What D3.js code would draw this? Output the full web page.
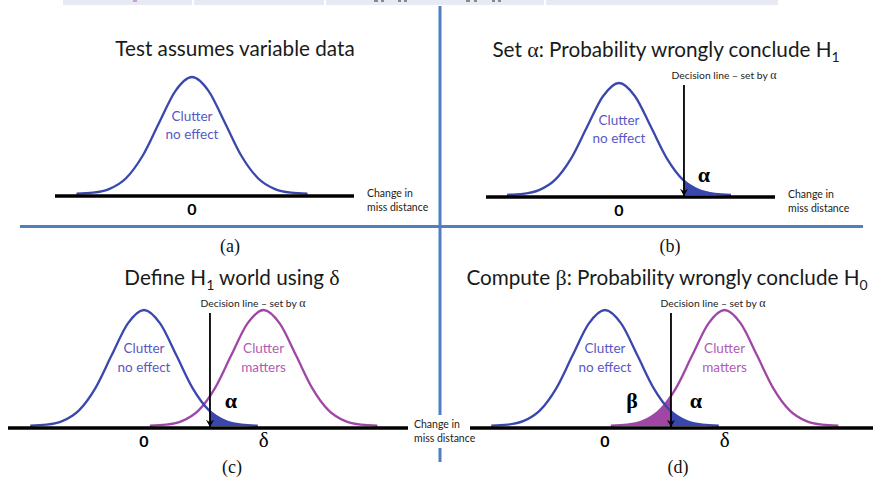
<!DOCTYPE html>
<html><head><meta charset="utf-8">
<script src="https://cdn.jsdelivr.net/npm/d3@7"></script>
<style>
html,body{margin:0;padding:0;background:#fff;}
svg{display:block;}
.sans{font-family:Lato,"Open Sans","DejaVu Sans",sans-serif;}
.serif{font-family:"Liberation Serif","Times New Roman",serif;}
</style>
</head><body>
<svg id="c" width="873" height="478"></svg>
<script>
// ---- data ----
const zPoints = [-3.5,-3.0,-2.5,-2.0,-1.5,-1.0,-0.5,0,0.5,1.0,1.5,2.0,2.5,3.0,3.5];
const bellHeights = [0.002,0.011,0.044,0.135,0.325,0.607,0.882,1,0.882,0.607,0.325,0.135,0.044,0.011,0.002];
const delta = 3.68;          // shift of the "clutter matters" curve (sd units)
const decision = 2.03;       // decision line (sd units), set by alpha
const panelTitles = ["Test assumes variable data",
  "Set α: Probability wrongly conclude H1",
  "Define H1 world using δ",
  "Compute β: Probability wrongly conclude H0"];
const panelLetters = ["(a)","(b)","(c)","(d)"];
const tickLabels = ["0","δ"];
const tickValues = [0, delta];
const curveNames = [["Clutter","no effect"],["Clutter","matters"]];

// ---- layout ----
const svg = d3.select("#c");
const BLUE = "#3a47ad", PURPLE = "#a047a6", BLUE_TXT = "#5858c4", PURPLE_TXT = "#b05cb4", DIV = "#4f7fbf";

// top table strip (cut off at the page edge; only a sliver shows)
svg.append("rect").attr("x",63).attr("y",0).attr("width",715).attr("height",5).attr("fill","#e7eaf3");
[193,325,545].forEach(x=>svg.append("rect").attr("x",x-1).attr("y",0).attr("width",2).attr("height",5).attr("fill","#fff"));
// glyph fragments peeking out of the strip
[[374,4],[381,3],[398,3],[404,3],[466,4],[474,3],[492,3],[498,3]].forEach(([x,w])=>
  svg.append("rect").attr("x",x).attr("y",0).attr("width",w).attr("height",2).attr("fill","#888"));
svg.append("rect").attr("x",133).attr("y",0).attr("width",4).attr("height",2).attr("fill","#c9a0d8");

// dividers
svg.append("line").attr("x1",440).attr("x2",440).attr("y1",6).attr("y2",462).attr("stroke",DIV).attr("stroke-width",3);
svg.append("line").attr("x1",20).attr("x2",863).attr("y1",226.5).attr("y2",226.5).attr("stroke",DIV).attr("stroke-width",3);

const panels = [
  {x0:192, ppu:33,   axis:[55,354],  axisY:196, peakY:77,  curves:[0],   decision:false, fills:[],              ticks:[0],   letter:[230,252], titleY:56,  titleX:235, nameY:[121,139], change:[367,197]},
  {x0:619, ppu:32,   axis:[486,775], axisY:197, peakY:83,  curves:[0],   decision:true,  fills:["alpha"],       ticks:[0],   letter:[670,252], titleY:57,  titleX:666, nameY:[125,143], change:[788,198], decText:[724,79],  decTop:85,  alpha:[704,182]},
  {x0:144, ppu:32.5, axis:[8,408],   axisY:428, peakY:310, curves:[0,1], decision:true,  fills:["alpha"],       ticks:[0,1], letter:[232,473], titleY:285, titleX:232, nameY:[353,372], change:[414,428], decText:[253,307], decTop:313, alpha:[231,408]},
  {x0:605, ppu:32.5, axis:[470,873], axisY:428, peakY:310, curves:[0,1], decision:true,  fills:["beta","alpha"],ticks:[0,1], letter:[678,473], titleY:285, titleX:667, nameY:[353,372], decText:[713,307], decTop:313, alpha:[696,408], beta:[632,408]}
];

// white box behind shared axis label between (c) and (d)
svg.append("rect").attr("x",410).attr("y",415).attr("width",59).attr("height",33).attr("fill","#fff");

const defs = svg.append("defs");
defs.append("marker").attr("id","arr").attr("viewBox","0 0 10 10").attr("refX",10).attr("refY",5)
  .attr("markerWidth",8).attr("markerHeight",9).attr("markerUnits","userSpaceOnUse").attr("orient","auto")
  .append("path").attr("d","M1,0 L10,5 L1,10 L4,5 Z").attr("fill","#000");

function titleText(g, p, i){
  const t = g.append("text").attr("class","sans").attr("x",p.titleX).attr("y",p.titleY)
    .attr("text-anchor","middle").attr("font-size",20.7).attr("fill","#1a1a1a");
  const s = panelTitles[i];
  const re = /(α|β|δ|H[01])/g;
  let last = 0, m, pendingDy = 0;
  const add = (txt) => { const ts = t.append("tspan").text(txt); if(pendingDy){ ts.attr("dy",pendingDy); pendingDy = 0; } return ts; };
  while((m = re.exec(s))){
    if(m.index>last) add(s.slice(last,m.index));
    if(m[0].startsWith("H")){
      add("H");
      add(m[0][1]).attr("font-size",14).attr("dy",5);
      pendingDy = -5;
    } else {
      add(m[0]).attr("class","serif").attr("font-size",22);
    }
    last = m.index + m[0].length;
  }
  if(last < s.length) add(s.slice(last));
}

panels.forEach((p,i)=>{
  const g = svg.append("g");
  const x = d3.scaleLinear().domain([-5,5]).range([p.x0-5*p.ppu, p.x0+5*p.ppu]);
  const y = d3.scaleLinear().domain([0,1]).range([p.axisY-2, p.peakY]);
  const means = [0, delta];
  const pts = k => zPoints.map((z,j)=>({v:z+means[k], h:bellHeights[j]}));
  const line = d3.line().x(d=>x(d.v)).y(d=>y(d.h)).curve(d3.curveMonotoneX);
  const area = d3.area().x(d=>x(d.v)).y0(y(0)).y1(d=>y(d.h)).curve(d3.curveMonotoneX);

  const cr = defs.append("clipPath").attr("id","cr"+i);
  cr.append("rect").attr("x",x(decision)).attr("y",0).attr("width",500).attr("height",478);
  const cl = defs.append("clipPath").attr("id","cl"+i);
  cl.append("rect").attr("x",0).attr("y",0).attr("width",x(decision)).attr("height",478);

  if(p.fills.includes("beta"))
    g.append("path").datum(pts(1)).attr("d",area).attr("fill",PURPLE).attr("clip-path",`url(#cl${i})`);
  if(p.fills.includes("alpha"))
    g.append("path").datum(pts(0)).attr("d",area).attr("fill",BLUE).attr("clip-path",`url(#cr${i})`);

  p.curves.slice().reverse().forEach(k=>{
    g.append("path").datum(pts(k)).attr("d",line).attr("fill","none")
      .attr("stroke",k===0?BLUE:PURPLE).attr("stroke-width",2.3);
  });

  g.append("line").attr("x1",p.axis[0]).attr("x2",p.axis[1]).attr("y1",p.axisY).attr("y2",p.axisY)
    .attr("stroke","#000").attr("stroke-width",3.5);

  p.ticks.forEach(k=>{
    g.append("text").attr("x",x(tickValues[k])).attr("y",p.axisY+19).attr("text-anchor","middle")
      .attr("class",k===0?"sans":"serif").attr("font-weight",k===0?"bold":"normal")
      .attr("font-size",k===0?16:21).attr("fill","#000").text(tickLabels[k]);
  });

  p.curves.forEach(k=>{
    curveNames[k].forEach((s,r)=>{
      g.append("text").attr("class","sans").attr("x",x(means[k])).attr("y",p.nameY[r])
        .attr("text-anchor","middle").attr("font-size",13.5).attr("fill",k===0?BLUE_TXT:PURPLE_TXT).text(s);
    });
  });

  if(p.decision){
    g.append("line").attr("x1",x(decision)).attr("x2",x(decision)).attr("y1",p.decTop).attr("y2",p.axisY-1)
      .attr("stroke","#000").attr("stroke-width",1.8).attr("marker-end","url(#arr)");
    const dt = g.append("text").attr("class","sans").attr("x",p.decText[0]).attr("y",p.decText[1])
      .attr("text-anchor","middle").attr("font-size",10.3).attr("fill","#222");
    dt.append("tspan").text("Decision line – set by ");
    dt.append("tspan").attr("class","serif").attr("font-size",12).text("α");
    g.append("text").attr("class","serif").attr("x",p.alpha[0]).attr("y",p.alpha[1]).attr("text-anchor","middle")
      .attr("font-size",22).attr("font-weight","bold").attr("fill","#000").text("α");
    if(p.beta) g.append("text").attr("class","serif").attr("x",p.beta[0]).attr("y",p.beta[1]).attr("text-anchor","middle")
      .attr("font-size",22).attr("font-weight","bold").attr("fill","#000").text("β");
  }

  if(p.change){
    ["Change in","miss distance"].forEach((s,r)=>{
      g.append("text").attr("class","sans").attr("x",p.change[0]).attr("y",p.change[1]+r*14)
        .attr("font-size",10.5).attr("fill","#222").text(s);
    });
  }

  titleText(g,p,i);
  g.append("text").attr("class","serif").attr("x",p.letter[0]).attr("y",p.letter[1]).attr("text-anchor","middle")
    .attr("font-size",18).attr("fill","#111").text(panelLetters[i]);
});
</script>
</body></html>
